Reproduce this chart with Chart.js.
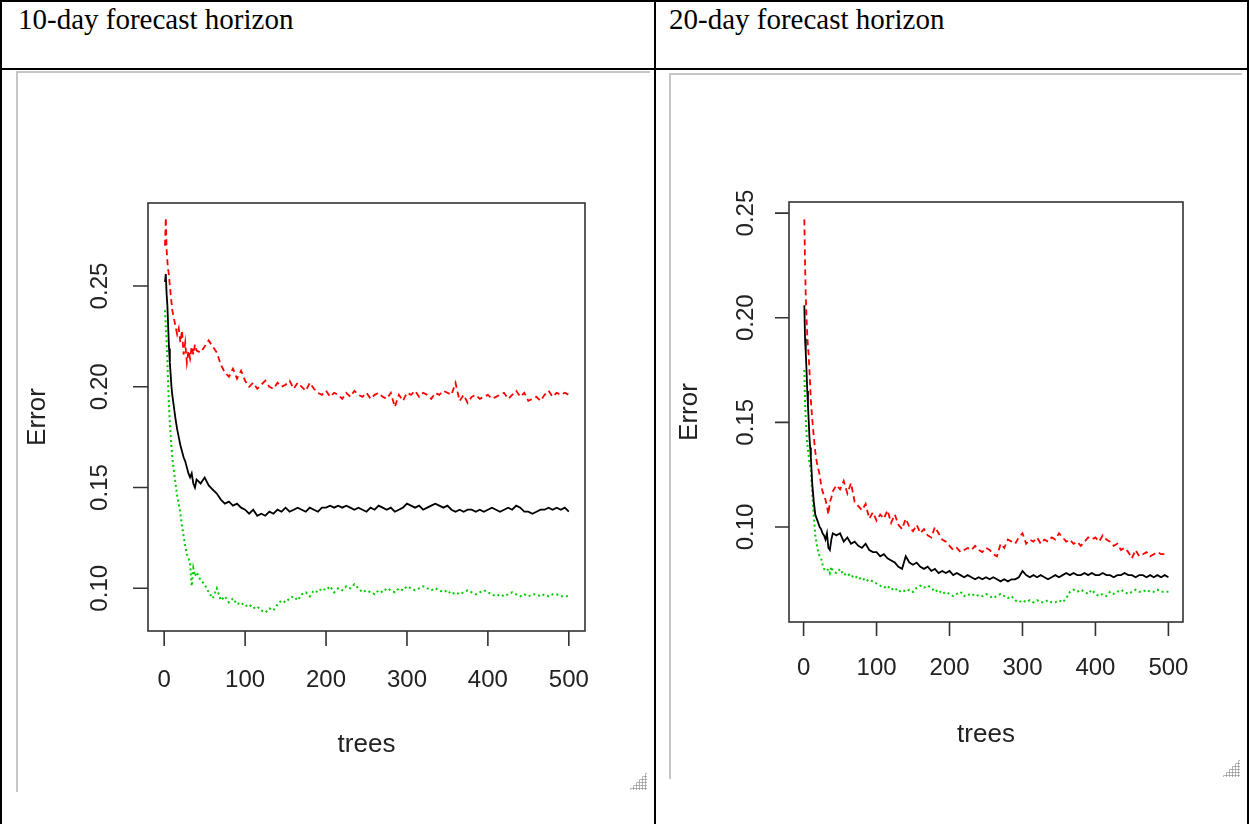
<!DOCTYPE html>
<html>
<head>
<meta charset="utf-8">
<script src="https://cdn.jsdelivr.net/npm/chart.js@4/dist/chart.umd.min.js"></script>
<style>
    body { margin: 0; background: #fff; width: 1249px; height: 824px; overflow: hidden; position: relative; }
    .frame { position: absolute; left: 0; top: 0; width: 1245px; height: 840px; border: 2px solid #000; }
    .hline { position: absolute; left: 0; top: 68px; width: 1249px; height: 2px; background: #000; }
    .vline { position: absolute; left: 654px; top: 0; width: 2px; height: 824px; background: #000; }
    .head { position: absolute; top: 5px; font-family: "Liberation Serif", "Times New Roman", serif; font-size: 29px; line-height: 1; color: #000; white-space: nowrap; }
    .shot { position: absolute; border-top: 2px solid #c6c6c6; border-left: 2px solid #c6c6c6; }
    .grip { position: absolute; width: 18px; height: 18px;
            background-image: radial-gradient(#9a9a9a 0.9px, transparent 1.3px); background-size: 3px 3px;
            clip-path: polygon(100% 0, 100% 100%, 0 100%); }
    canvas { position: absolute; }
</style>
</head>
<body>
<div class="frame"></div>
<div class="hline"></div>
<div class="vline"></div>
<div class="head" style="left:18px">10-day forecast horizon</div>
<div class="head" style="left:669px">20-day forecast horizon</div>

<div class="shot" style="left:16px; top:71px; width:632px; height:719px;"></div>
<div class="shot" style="left:669px; top:73px; width:571px; height:704px;"></div>
<div class="grip" style="left:629px; top:772px;"></div>
<div class="grip" style="left:1222px; top:759px;"></div>

<canvas id="chart10" width="630" height="717" style="left:18px; top:73px;"></canvas>
<canvas id="chart20" width="569" height="702" style="left:671px; top:75px;"></canvas>

<script>
// number of trees at which the error rates were read
const trees = [
    1, 2, 3, 4, 5, 6, 7, 8, 9, 10,
    12, 14, 16, 18, 20, 22, 24, 26, 28, 30, 32, 34, 36, 38, 40,
    45, 50, 55, 60, 65, 70, 75, 80, 85, 90,
    95, 100, 105, 110, 115, 120, 125, 130, 135, 140,
    145, 150, 155, 160, 165, 170, 175, 180, 185, 190,
    195, 200, 205, 210, 215, 220, 225, 230, 235, 240,
    245, 250, 255, 260, 265, 270, 275, 280, 285, 290,
    295, 300, 305, 310, 315, 320, 325, 330, 335, 340,
    345, 350, 355, 360, 365, 370, 375, 380, 385, 390,
    395, 400, 405, 410, 415, 420, 425, 430, 435, 440,
    445, 450, 455, 460, 465, 470, 475, 480, 485, 490,
    495, 500
];

// 10-day horizon
const oob10 = [
    0.252, 0.256, 0.246, 0.240, 0.229, 0.219, 0.212, 0.206, 0.200, 0.196,
    0.190, 0.184, 0.179, 0.175, 0.171, 0.168, 0.165, 0.163, 0.160, 0.157, 0.155, 0.157, 0.152, 0.150, 0.154,
    0.152, 0.155, 0.151, 0.149, 0.147, 0.144, 0.142, 0.143, 0.141, 0.142,
    0.140, 0.139, 0.137, 0.139, 0.136, 0.137, 0.136, 0.138, 0.137, 0.139,
    0.138, 0.140, 0.138, 0.139, 0.140, 0.139, 0.138, 0.140, 0.139, 0.138,
    0.140, 0.140, 0.141, 0.140, 0.141, 0.140, 0.141, 0.140, 0.139, 0.140,
    0.139, 0.138, 0.140, 0.139, 0.141, 0.140, 0.139, 0.140, 0.138, 0.139,
    0.140, 0.142, 0.141, 0.140, 0.141, 0.139, 0.140, 0.141, 0.142, 0.141,
    0.140, 0.141, 0.139, 0.138, 0.139, 0.138, 0.139, 0.139, 0.138, 0.139,
    0.138, 0.139, 0.140, 0.139, 0.138, 0.139, 0.140, 0.139, 0.141, 0.140,
    0.138, 0.138, 0.137, 0.138, 0.139, 0.139, 0.140, 0.139, 0.140, 0.139,
    0.140, 0.138
];
const up10 = [
    0.270, 0.284, 0.268, 0.262, 0.258, 0.255, 0.250, 0.246, 0.242, 0.238,
    0.234, 0.230, 0.226, 0.229, 0.222, 0.228, 0.216, 0.222, 0.212, 0.218, 0.214, 0.220, 0.216, 0.221, 0.218,
    0.217, 0.220, 0.223, 0.220, 0.217, 0.211, 0.207, 0.205, 0.209, 0.204,
    0.208, 0.203, 0.200, 0.202, 0.199, 0.201, 0.203, 0.200, 0.199, 0.202,
    0.200, 0.201, 0.203, 0.199, 0.202, 0.200, 0.198, 0.202, 0.199, 0.197,
    0.196, 0.198, 0.195, 0.197, 0.196, 0.194, 0.197, 0.195, 0.198, 0.196,
    0.195, 0.197, 0.194, 0.196, 0.197, 0.195, 0.194, 0.197, 0.190, 0.196,
    0.193, 0.197, 0.196, 0.198, 0.195, 0.197, 0.196, 0.194, 0.197, 0.196,
    0.198, 0.197, 0.196, 0.202, 0.193, 0.196, 0.192, 0.195, 0.196, 0.194,
    0.195, 0.196, 0.194, 0.195, 0.196, 0.197, 0.194, 0.196, 0.198, 0.195,
    0.197, 0.193, 0.194, 0.195, 0.193, 0.196, 0.198, 0.195, 0.197, 0.196,
    0.197, 0.196
];
const down10 = [
    0.238, 0.230, 0.222, 0.212, 0.200, 0.190, 0.182, 0.176, 0.170, 0.165,
    0.158, 0.152, 0.146, 0.142, 0.137, 0.131, 0.126, 0.121, 0.117, 0.115, 0.112, 0.101, 0.110, 0.106, 0.108,
    0.104, 0.102, 0.098, 0.095, 0.100, 0.094, 0.096, 0.093, 0.095, 0.092,
    0.093, 0.091, 0.092, 0.090, 0.091, 0.089, 0.088, 0.090, 0.089, 0.092,
    0.094, 0.093, 0.095, 0.096, 0.094, 0.097, 0.098, 0.096, 0.099, 0.098,
    0.100, 0.099, 0.101, 0.098, 0.100, 0.099, 0.101, 0.100, 0.102, 0.100,
    0.098, 0.099, 0.098, 0.097, 0.099, 0.098, 0.100, 0.099, 0.098, 0.100,
    0.099, 0.101, 0.100, 0.099, 0.100, 0.101, 0.100, 0.099, 0.100, 0.099,
    0.098, 0.099, 0.097, 0.098, 0.097, 0.098, 0.099, 0.098, 0.097, 0.098,
    0.099, 0.098, 0.097, 0.096, 0.097, 0.096, 0.097, 0.098, 0.097, 0.096,
    0.097, 0.096, 0.097, 0.097, 0.096, 0.097, 0.096, 0.097, 0.097, 0.096,
    0.096, 0.096
];

// 20-day horizon
const oob20 = [
    0.206, 0.190, 0.183, 0.175, 0.165, 0.158, 0.151, 0.143, 0.138, 0.133,
    0.120, 0.112, 0.106, 0.104, 0.102, 0.100, 0.099, 0.097, 0.096, 0.094, 0.097, 0.090, 0.089, 0.094, 0.097,
    0.096, 0.097, 0.093, 0.095, 0.092, 0.093, 0.091, 0.090, 0.092, 0.089,
    0.088, 0.088, 0.086, 0.087, 0.085, 0.084, 0.083, 0.081, 0.080, 0.086,
    0.083, 0.082, 0.083, 0.081, 0.080, 0.081, 0.079, 0.080, 0.078, 0.079,
    0.078, 0.079, 0.077, 0.078, 0.077, 0.076, 0.077, 0.076, 0.075, 0.076,
    0.075, 0.076, 0.075, 0.076, 0.075, 0.074, 0.075, 0.074, 0.075, 0.075,
    0.076, 0.079, 0.077, 0.076, 0.077, 0.076, 0.077, 0.076, 0.075, 0.076,
    0.077, 0.076, 0.077, 0.078, 0.077, 0.078, 0.077, 0.077, 0.078, 0.077,
    0.078, 0.077, 0.077, 0.078, 0.077, 0.077, 0.076, 0.077, 0.077, 0.078,
    0.077, 0.077, 0.076, 0.077, 0.077, 0.076, 0.077, 0.076, 0.077, 0.076,
    0.077, 0.076
];
const up20 = [
    0.247, 0.226, 0.210, 0.200, 0.192, 0.186, 0.182, 0.175, 0.168, 0.160,
    0.151, 0.143, 0.136, 0.131, 0.128, 0.125, 0.120, 0.117, 0.115, 0.113, 0.110, 0.106, 0.112, 0.114, 0.117,
    0.120, 0.118, 0.122, 0.116, 0.121, 0.112, 0.110, 0.108, 0.111, 0.104,
    0.107, 0.103, 0.106, 0.104, 0.108, 0.102, 0.106, 0.101, 0.099, 0.104,
    0.100, 0.098, 0.101, 0.097, 0.099, 0.096, 0.095, 0.100, 0.097, 0.094,
    0.093, 0.091, 0.089, 0.090, 0.088, 0.089, 0.090, 0.089, 0.091, 0.089,
    0.088, 0.090, 0.089, 0.087, 0.086, 0.092, 0.090, 0.094, 0.093, 0.092,
    0.095, 0.097, 0.092, 0.094, 0.093, 0.095, 0.092, 0.094, 0.093, 0.095,
    0.094, 0.097, 0.095, 0.093, 0.094, 0.092, 0.093, 0.091, 0.093, 0.095,
    0.094, 0.095, 0.093, 0.096, 0.094, 0.093, 0.091, 0.092, 0.089, 0.090,
    0.088, 0.085, 0.089, 0.086, 0.087, 0.088, 0.086, 0.087, 0.088, 0.087,
    0.087, 0.087
];
const down20 = [
    0.175, 0.160, 0.151, 0.145, 0.140, 0.137, 0.134, 0.131, 0.129, 0.127,
    0.115, 0.105, 0.096, 0.092, 0.088, 0.086, 0.085, 0.082, 0.080, 0.079, 0.079, 0.080, 0.078, 0.081, 0.079,
    0.078, 0.080, 0.077, 0.078, 0.076, 0.077, 0.075, 0.076, 0.074, 0.075,
    0.074, 0.073, 0.072, 0.071, 0.072, 0.070, 0.071, 0.069, 0.070, 0.069,
    0.070, 0.069, 0.071, 0.072, 0.071, 0.072, 0.071, 0.069, 0.070, 0.068,
    0.069, 0.068, 0.067, 0.068, 0.069, 0.067, 0.068, 0.067, 0.068, 0.067,
    0.067, 0.068, 0.067, 0.066, 0.067, 0.068, 0.067, 0.066, 0.067, 0.065,
    0.064, 0.065, 0.064, 0.065, 0.064, 0.065, 0.064, 0.064, 0.065, 0.064,
    0.064, 0.065, 0.064, 0.066, 0.069, 0.070, 0.069, 0.070, 0.069, 0.068,
    0.070, 0.068, 0.067, 0.068, 0.067, 0.069, 0.068, 0.069, 0.070, 0.069,
    0.068, 0.069, 0.070, 0.069, 0.069, 0.070, 0.069, 0.069, 0.070, 0.069,
    0.069, 0.069
];

const xTicks = [0, 100, 200, 300, 400, 500];
const xTickLabels = ['0', '100', '200', '300', '400', '500'];
const yTicks = [0.10, 0.15, 0.20, 0.25];
const yTickLabels = ['0.10', '0.15', '0.20', '0.25'];
const xTitle = 'trees';
const yTitle = 'Error';

// R style box, ticks and labels, placed through the chart's own scales
const rAxes = {
    id: 'rAxes',
    afterDraw(chart, args, o) {
        const { ctx, chartArea: a } = chart;
        const x = chart.scales.x, y = chart.scales.y;
        const font = '"Liberation Sans", Arial, sans-serif';
        ctx.save();
        ctx.strokeStyle = '#333';
        ctx.lineWidth = 1.6;
        ctx.strokeRect(a.left, a.top, a.right - a.left, a.bottom - a.top);
        ctx.beginPath();
        xTicks.forEach(v => {
            const px = x.getPixelForValue(v);
            ctx.moveTo(px, a.bottom);
            ctx.lineTo(px, a.bottom + o.tick);
        });
        yTicks.forEach(v => {
            const py = y.getPixelForValue(v);
            ctx.moveTo(a.left, py);
            ctx.lineTo(a.left - o.tick, py);
        });
        ctx.stroke();

        ctx.fillStyle = '#222';
        ctx.textAlign = 'center';
        ctx.textBaseline = 'middle';
        ctx.font = o.tickSize + 'px ' + font;
        xTicks.forEach((v, i) => ctx.fillText(xTickLabels[i], x.getPixelForValue(v), a.bottom + o.xLab));
        yTicks.forEach((v, i) => {
            ctx.save();
            ctx.translate(a.left - o.yLab, y.getPixelForValue(v));
            ctx.rotate(-Math.PI / 2);
            ctx.fillText(yTickLabels[i], 0, 0);
            ctx.restore();
        });
        ctx.font = o.titleSize + 'px ' + font;
        ctx.fillText(xTitle, (a.left + a.right) / 2, a.bottom + o.xTitle);
        ctx.save();
        ctx.translate(a.left - o.yTitle, (a.top + a.bottom) / 2);
        ctx.rotate(-Math.PI / 2);
        ctx.fillText(yTitle, 0, 0);
        ctx.restore();
        ctx.restore();
    }
};

function makeChart(id, oob, up, down, yMin, yMax, padding, axes) {
    const pts = vals => trees.map((t, i) => ({ x: t, y: vals[i] }));
    new Chart(document.getElementById(id), {
        type: 'line',
        data: {
            datasets: [
                { data: pts(oob), borderColor: '#000', borderWidth: 1.8 },
                { data: pts(up), borderColor: '#ff0000', borderWidth: 1.8, borderDash: [6, 4] },
                { data: pts(down), borderColor: '#00cd00', borderWidth: 2, borderDash: [2, 3] }
            ]
        },
        options: {
            responsive: false,
            animation: false,
            devicePixelRatio: 1,
            layout: { padding: padding },
            elements: { point: { radius: 0 }, line: { tension: 0 } },
            scales: {
                x: { type: 'linear', min: -20, max: 520, display: false },
                y: { min: yMin, max: yMax, display: false }
            },
            plugins: { legend: { display: false }, tooltip: { enabled: false }, rAxes: axes }
        },
        plugins: [rAxes]
    });
}

makeChart('chart10', oob10, up10, down10, 0.0788, 0.2912,
    { left: 130, top: 130, right: 63, bottom: 159 },
    { tick: 15, xLab: 49, yLab: 48, xTitle: 114, yTitle: 110, tickSize: 24, titleSize: 26 });

makeChart('chart20', oob20, up20, down20, 0.0546, 0.2553,
    { left: 118, top: 127, right: 57, bottom: 155 },
    { tick: 14, xLab: 46, yLab: 43, xTitle: 113, yTitle: 99, tickSize: 24, titleSize: 26 });
</script>
</body>
</html>
